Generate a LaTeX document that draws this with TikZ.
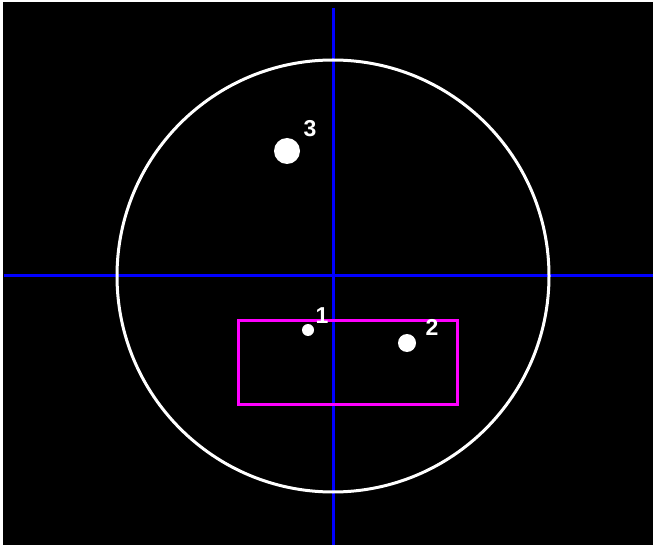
\documentclass[tikz,border=0pt]{standalone}
\usepackage{fontspec}
\setmainfont{Liberation Sans}
\begin{document}
\begin{tikzpicture}[x=1pt,y=-1pt,
  axis/.style={draw={rgb,255:red,0;green,0;blue,255},line width=3pt},
  ring/.style={draw=white,line width=3pt},
  box/.style={draw={rgb,255:red,255;green,0;blue,255},line width=3pt},
  dot/.style={circle,fill=white,inner sep=0pt},
  lbl/.style={text=white,font=\fontsize{23}{23}\selectfont\bfseries,inner sep=0pt}]
\useasboundingbox (0,0) rectangle (653,545);
\fill[white] (0,0) rectangle (653,545);
\fill[black] (3,2) rectangle (653,545);
\coordinate (vt) at (333,8);
\coordinate (vb) at (333,545);
\coordinate (hl) at (4,276);
\coordinate (hr) at (653,276);
\draw[axis] (vt) -- (vb);
\draw[axis] (hl) -- (hr);
\node[ring,circle,minimum size=432pt,inner sep=0pt] (c) at (333,276) {};
\node[box,minimum width=219pt,minimum height=84pt,inner sep=0pt] (r) at (347.5,362) {};
\node[dot,minimum size=26pt] (d3) at (287,151) {};
\node[dot,minimum size=12pt] (d1) at (308,330) {};
\node[dot,minimum size=18pt] (d2) at (407,343) {};
\node[lbl] (l3) at (310,129) {3};
\node[lbl] (l1) at (322,316) {1};
\node[lbl] (l2) at (432,327) {2};
\end{tikzpicture}
\end{document}
